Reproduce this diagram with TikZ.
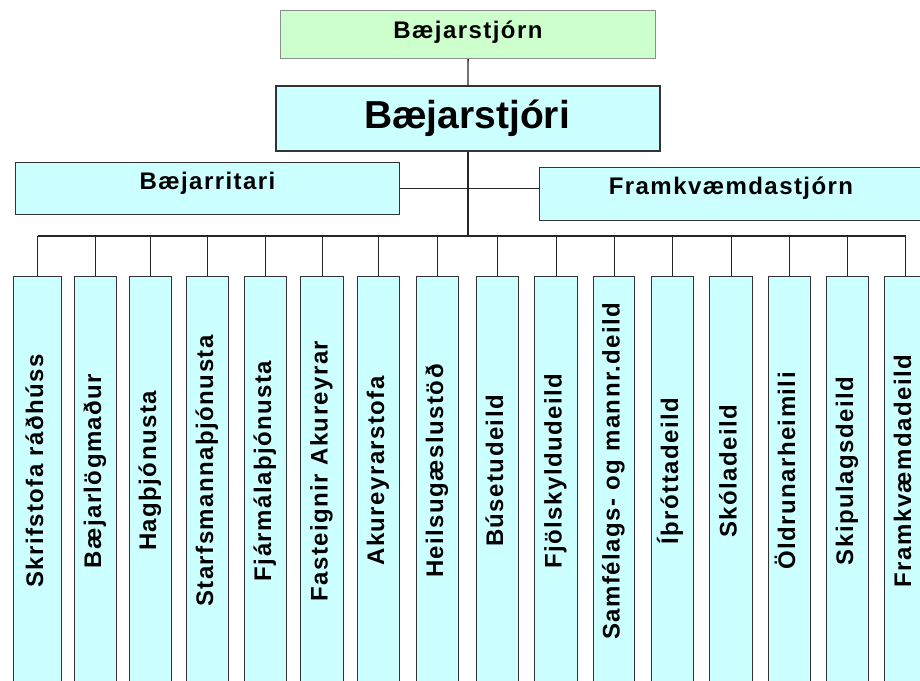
\documentclass[tikz,border=0pt]{standalone}
\usepackage{fontspec}
\setmainfont{Liberation Sans}
\newfontfamily\orgfont{Liberation Sans}[LetterSpace=6.0]
\definecolor{cyanfill}{HTML}{CCFFFF}
\definecolor{greenfill}{HTML}{CCFFCC}
\definecolor{boxline}{HTML}{333333}
\definecolor{greyline}{HTML}{8C8C8C}
\definecolor{connline}{HTML}{262626}
\begin{document}
\begin{tikzpicture}[x=1pt,y=-1pt,
  orgbox/.style={draw=boxline, fill=cyanfill, line width=1.3pt, inner sep=0pt,
    anchor=north west},
  topbox/.style={orgbox, fill=greenfill, draw=greyline, line width=1.2pt},
  headbox/.style={orgbox, line width=2pt},
  smalltext/.style={anchor=base, inner sep=0pt,
    font=\orgfont\bfseries\fontsize{24pt}{28pt}\selectfont},
  bigtext/.style={anchor=base, inner sep=0pt,
    font=\bfseries\fontsize{39pt}{44pt}\selectfont},
  collabel/.style={smalltext, rotate=90},
  conn/.style={draw=connline, line width=1.3pt}]
\useasboundingbox (0,0) rectangle (920,680);
\clip (0,0) rectangle (920,680);

% upper levels
\node[topbox, minimum width=375, minimum height=48] (council) at (280,10) {};
\node[headbox, minimum width=384, minimum height=65] (mayor) at (275,85) {};
\node[orgbox, minimum width=384, minimum height=52] (ritari) at (15,162) {};
\node[orgbox, minimum width=386, minimum height=53] (fram) at (539,167) {};

\node[smalltext] (councilT) at (468,38) {Bæjarstjórn};
\node[bigtext] (mayorT) at (467,128) {Bæjarstjóri};
\node[smalltext] (ritariT) at (207.5,189) {Bæjarritari};
\node[smalltext] (framT) at (731,194) {Framkvæmdastjórn};

% departments
\foreach \n/\l/\r/\t in {
  1/13/61/{Skrifstofa ráðhúss},
  2/74/116/{Bæjarlögmaður},
  3/129/171/{Hagþjónusta},
  4/186/228/{Starfsmannaþjónusta},
  5/244/286/{Fjármálaþjónusta},
  6/300/343/{Fasteignir Akureyrar},
  7/357/399/{Akureyrarstofa},
  8/416/458/{Heilsugæslustöð},
  9/476/518/{Búsetudeild},
  10/534/577/{Fjölskyldudeild},
  11/593/634/{Samfélags- og mannr.deild},
  12/651/693/{Íþróttadeild},
  13/709/752/{Skóladeild},
  14/768/810/{Öldrunarheimili},
  15/826/868/{Skipulagsdeild},
  16/884/926/{Framkvæmdadeild}}{
  \node[orgbox, minimum width={\r-\l}, minimum height=410] (c\n) at (\l,276) {};
  \node[collabel] (l\n) at ({(\l+\r)/2+6},471) {\t};
}

% connectors
\coordinate (busy) at (0,236);
\coordinate (busL) at (c1.north |- busy);
\coordinate (busR) at (c16.north |- busy);
\draw[conn] (council.south) -- (mayor.north);
\draw[conn] (mayor.south) -- (mayor.south |- busy);
\draw[conn] (ritari.east) -- (ritari.east -| fram.west);
\draw[conn] (busL) -- (busR);
\foreach \n in {1,...,16}{
  \draw[conn] (c\n.north) -- (c\n.north |- busy);
}
\end{tikzpicture}
\end{document}
